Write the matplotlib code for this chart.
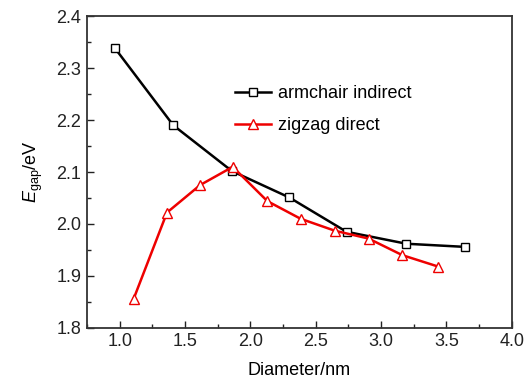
import matplotlib
matplotlib.use("Agg")
import matplotlib.pyplot as plt
from matplotlib.ticker import MultipleLocator

plt.rcParams['font.family'] = ['Liberation Sans', 'DejaVu Sans']
plt.rcParams['mathtext.fontset'] = 'custom'
plt.rcParams['mathtext.rm'] = 'Liberation Sans'
plt.rcParams['mathtext.it'] = 'Liberation Sans:italic'

armchair_d = [0.965, 1.41, 1.858, 2.298, 2.736, 3.194, 3.639]
armchair_e = [2.338, 2.190, 2.102, 2.051, 1.985, 1.962, 1.956]
zigzag_d = [1.107, 1.362, 1.616, 1.865, 2.130, 2.385, 2.647, 2.904, 3.163, 3.438]
zigzag_e = [1.856, 2.022, 2.075, 2.110, 2.044, 2.010, 1.987, 1.972, 1.940, 1.918]

fig = plt.figure(figsize=(5.32, 3.84), dpi=100)
ax = fig.add_axes([0.1635, 0.146, 0.7985, 0.812])

ax.plot(armchair_d, armchair_e, color='black', lw=1.8, marker='s', ms=6,
        mfc='white', mec='black', mew=1.0, label='armchair indirect')
ax.plot(zigzag_d, zigzag_e, color='#ee0000', lw=1.8, marker='^', ms=7,
        mfc='white', mec='#ee0000', mew=1.0, label='zigzag direct')

ax.set_xlim(0.75, 4.0)
ax.set_ylim(1.8, 2.4)
ax.xaxis.set_major_locator(MultipleLocator(0.5))
ax.xaxis.set_minor_locator(MultipleLocator(0.25))
ax.yaxis.set_major_locator(MultipleLocator(0.1))
ax.yaxis.set_minor_locator(MultipleLocator(0.05))
ax.tick_params(which='both', direction='in', top=False, right=False, labelsize=13, colors='#222222')
ax.tick_params(which='major', length=5, width=1.0, pad=4)
ax.tick_params(which='minor', length=3, width=1.0)
for s in ax.spines.values():
    s.set_linewidth(1.3)
    s.set_color('#333333')

ax.set_xlabel('Diameter/nm', fontsize=13, labelpad=8)
ax.set_ylabel(r'$E_{\mathrm{gap}}$/eV', fontsize=13, labelpad=8)

ax.legend(loc='upper left', bbox_to_anchor=(0.31, 0.83), frameon=False,
          fontsize=13, handlelength=2.0, handletextpad=0.4, labelspacing=0.8)

fig.savefig('out.png', dpi=100)
